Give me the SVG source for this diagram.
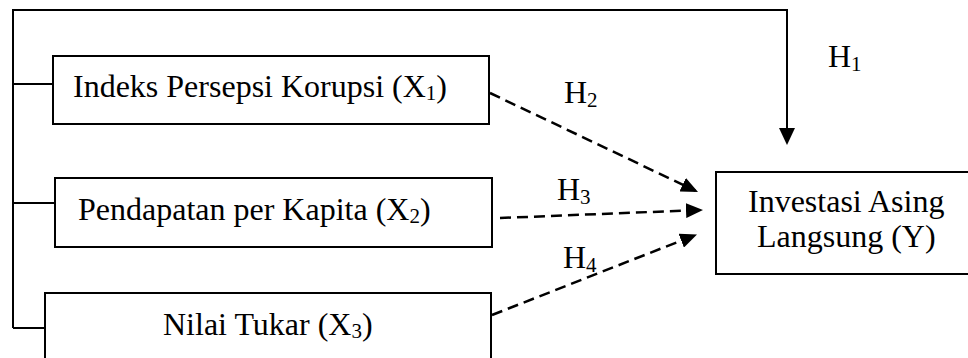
<svg xmlns="http://www.w3.org/2000/svg" width="968" height="358" viewBox="0 0 968 358">
<style>
.box{fill:#fff;stroke:#000;stroke-width:2}
.ln{fill:none;stroke:#000;stroke-width:2}
.dash{fill:none;stroke:#000;stroke-width:2.5;stroke-dasharray:11 6}
text{font-family:"Liberation Serif","Times New Roman",serif;font-size:32px;fill:#000}
.sub{font-size:21px}
</style>
<defs>
<marker id="ah" viewBox="0 0 17 15" refX="14" refY="7.5" markerWidth="17" markerHeight="15" markerUnits="userSpaceOnUse" orient="auto">
<path d="M0,0 L17,7.5 L0,15 z" fill="#000"/>
</marker>
</defs>
<rect width="968" height="358" fill="#fff"/>
<g id="connectors">
<polyline class="ln" points="13,328 13,10 787,10 787,132"/>
<path d="M787,128 L779,128 L787,145 L795,128 z" fill="#000"/>
<line class="ln" x1="13" y1="84" x2="53" y2="84"/>
<line class="ln" x1="13" y1="203" x2="55" y2="203"/>
<line class="ln" x1="13" y1="328" x2="45" y2="328"/>
<line class="dash" x1="490" y1="93" x2="695.3" y2="190.7" marker-end="url(#ah)"/>
<line class="dash" x1="500" y1="218" x2="700" y2="210" marker-end="url(#ah)"/>
<line class="dash" x1="492" y1="315" x2="694.2" y2="235.5" marker-end="url(#ah)"/>
</g>
<g id="x1">
<rect class="box" x="53" y="56" width="436" height="68"/>
<text x="73" y="97">Indeks Persepsi Korupsi (X<tspan class="sub" dy="3">1</tspan><tspan dy="-3">)</tspan></text>
</g>
<g id="x2">
<rect class="box" x="55" y="178" width="437" height="69"/>
<text x="78" y="220">Pendapatan per Kapita (X<tspan class="sub" dy="3">2</tspan><tspan dy="-3">)</tspan></text>
</g>
<g id="x3">
<rect class="box" x="45" y="293" width="446" height="80"/>
<text x="163" y="335">Nilai Tukar (X<tspan class="sub" dy="3">3</tspan><tspan dy="-3">)</tspan></text>
</g>
<g id="y">
<rect class="box" x="716" y="172" width="270" height="102"/>
<text x="748" y="212">Investasi Asing</text>
<text x="757" y="247">Langsung (Y)</text>
</g>
<g id="labels">
<text x="828" y="67">H<tspan class="sub" dy="4">1</tspan></text>
<text x="564" y="103">H<tspan class="sub" dy="4">2</tspan></text>
<text x="557" y="200">H<tspan class="sub" dy="4">3</tspan></text>
<text x="563" y="268">H<tspan class="sub" dy="4">4</tspan></text>
</g>
</svg>
